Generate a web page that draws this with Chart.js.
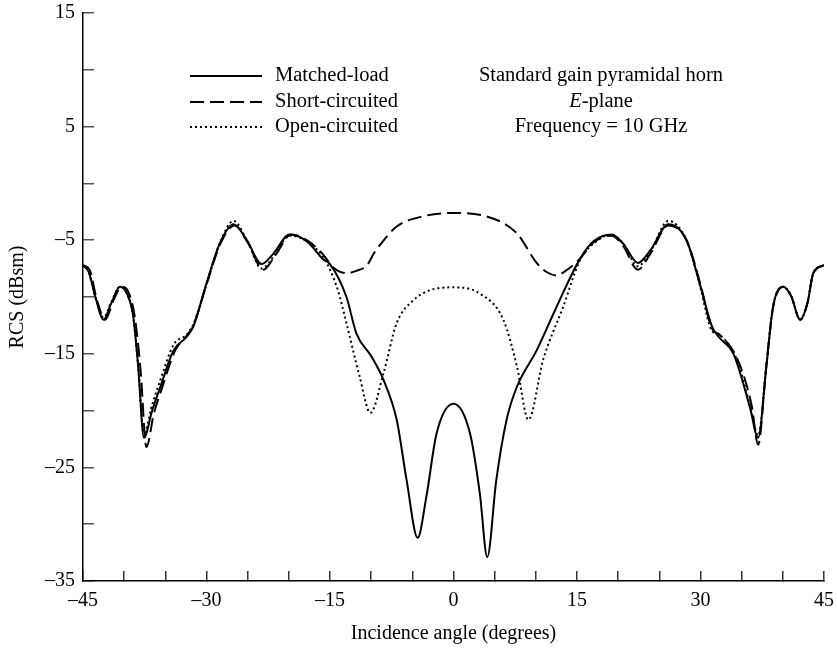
<!DOCTYPE html>
<html lang="en">

<head>
    <meta charset="utf-8">
    <title>RCS of pyramidal horn</title>
    <script src="https://cdn.jsdelivr.net/npm/chart.js@4.4.0/dist/chart.umd.min.js"></script>
    <style>
        body { margin: 0; background: #ffffff; }
    </style>
</head>

<body>
    <canvas id="myChart" width="837" height="650"></canvas>

    <script>
        // data (degrees / dBsm)
        const matchedAngle = [-45, -44.3, -43.5, -42.5, -41.6, -40.5, -39.6, -38.9, -38.3, -37.6, -36.6, -35.6, -34.0, -32.4, -31.6, -30.0, -28.4, -26.7, -25.1, -23.3, -21.9, -19.9, -17.8, -15.8, -15.0, -13.0, -11.8, -10.0, -8.5, -6.9, -5.7, -4.35, -3.3, -2.05, 0, 2.0, 3.2, 4.1, 5.2, 6.45, 7.7, 10.1, 12.5, 15.4, 17.0, 19.2, 20.6, 22.4, 23.9, 26.1, 28.3, 29.9, 31.4, 32.2, 34.0, 36.0, 37.0, 38.0, 38.8, 40.05, 41.0, 42.1, 43.0, 43.7, 45]
        const matchedRcs = [-7.2, -7.8, -10.0, -12.0, -10.6, -9.1, -9.8, -11.7, -16.1, -22.4, -20.0, -17.9, -14.7, -13.5, -12.6, -8.8, -5.3, -3.6, -5.0, -7.1, -6.2, -4.5, -5.1, -6.7, -7.1, -10.0, -13.2, -15.2, -17.3, -20.8, -26.1, -31.2, -27.6, -22.0, -19.4, -22.0, -27.3, -32.9, -26.1, -20.8, -17.9, -14.7, -10.9, -6.6, -5.1, -4.5, -5.3, -7.0, -5.9, -3.6, -5.0, -8.8, -12.6, -13.5, -15.0, -19.7, -22.4, -16.1, -10.9, -9.1, -9.9, -12.0, -10.5, -7.9, -7.2]

        const shortAngle = [-45, -44.2, -43.3, -42.3, -41.3, -40.3, -39.4, -38.7, -38.0, -37.3, -36.4, -35.4, -33.8, -32.4, -31.6, -30.0, -28.3, -26.6, -25.0, -23.1, -21.7, -19.7, -17.6, -15.8, -14.6, -13.0, -11.8, -10.5, -9.7, -8.9, -6.9, -3.7, 0, 4.0, 7.7, 10.1, 11.3, 12.5, 13.8, 15.4, 17.0, 19.2, 20.6, 22.4, 23.9, 26.1, 28.3, 30.0, 31.4, 32.3, 34.5, 36.2, 37.0, 38.0, 38.8, 40.05, 41.0, 42.1, 43.0, 43.7, 45]
        const shortRcs = [-7.2, -7.6, -10.3, -12.0, -10.3, -9.1, -9.7, -11.8, -16.5, -23.2, -20.3, -18.0, -14.7, -13.4, -12.5, -8.9, -5.3, -3.7, -5.2, -7.6, -6.4, -4.5, -5.1, -6.3, -7.4, -7.9, -7.7, -7.2, -6.2, -5.4, -3.8, -2.9, -2.6, -2.9, -4.4, -7.0, -7.8, -8.1, -7.6, -6.6, -5.2, -4.6, -5.5, -7.6, -6.2, -3.7, -5.0, -8.9, -12.8, -13.3, -15.5, -19.5, -23.0, -16.0, -11.0, -9.1, -9.9, -12.0, -10.5, -7.9, -7.2]

        const openAngle = [-45, -44.3, -43.5, -42.5, -41.6, -40.5, -39.6, -38.9, -38.3, -37.6, -36.6, -35.6, -34.0, -32.4, -31.6, -30.0, -28.4, -26.7, -25.1, -23.3, -21.9, -19.9, -17.8, -15.8, -15.0, -14.0, -13.0, -11.4, -10.1, -8.5, -6.9, -4.9, -2.85, 0, 3.2, 6.05, 7.7, 9.1, 10.9, 13.3, 15.4, 17.0, 19.2, 20.6, 22.4, 23.9, 26.1, 28.3, 29.9, 31.4, 32.2, 34.4, 36.0, 37.0, 38.0, 38.8, 40.05, 41.0, 42.1, 43.0, 43.7, 45]
        const openRcs = [-7.2, -7.8, -10.0, -11.8, -10.5, -9.1, -9.8, -11.7, -16.1, -22.0, -19.5, -17.3, -14.2, -13.3, -12.4, -8.9, -5.3, -3.3, -5.0, -7.5, -6.5, -4.6, -5.1, -6.5, -7.6, -9.5, -12.3, -17.0, -20.2, -16.7, -12.3, -10.3, -9.4, -9.15, -9.7, -12.0, -16.1, -20.8, -15.5, -10.9, -6.7, -5.3, -4.5, -5.3, -7.3, -6.0, -3.3, -5.0, -8.9, -13.0, -13.3, -15.5, -19.5, -22.2, -16.1, -10.9, -9.1, -9.9, -12.0, -10.5, -7.9, -7.2]

        const seriesNames = ['Matched-load', 'Short-circuited', 'Open-circuited']
        const noteLines = ['Standard gain pyramidal horn', '-plane', 'Frequency = 10 GHz']

        const serif = "'Liberation Serif', 'Times New Roman', serif"

        function toPoints(xs, ys) {
            return xs.map((x, i) => ({ x: x, y: ys[i] }))
        }

        // legend + text block inside the plot
        const notesPlugin = {
            id: 'notes',
            afterDraw(chart) {
                const ctx = chart.ctx
                const area = chart.chartArea
                const font = '20.5px ' + serif
                ctx.save()
                ctx.font = font
                ctx.fillStyle = '#000'
                ctx.textBaseline = 'middle'
                const rows = [area.top + 63, area.top + 89, area.top + 114]
                chart.data.datasets.forEach((ds, i) => {
                    ctx.strokeStyle = '#000'
                    ctx.lineWidth = ds.borderWidth
                    ctx.setLineDash(ds.borderDash || [])
                    ctx.beginPath()
                    ctx.moveTo(area.left + 107, rows[i])
                    ctx.lineTo(area.left + 179, rows[i])
                    ctx.stroke()
                    ctx.setLineDash([])
                    ctx.textAlign = 'left'
                    ctx.fillText(ds.label, area.left + 192, rows[i])
                })

                const cx = area.left + 518
                ctx.textAlign = 'center'
                ctx.fillText(noteLines[0], cx, rows[0])
                // E-plane with italic E
                ctx.font = 'italic ' + font
                const wE = ctx.measureText('E').width
                ctx.font = font
                const wRest = ctx.measureText(noteLines[1]).width
                const x0 = cx - (wE + wRest) / 2
                ctx.textAlign = 'left'
                ctx.font = 'italic ' + font
                ctx.fillText('E', x0, rows[1])
                ctx.font = font
                ctx.fillText(noteLines[1], x0 + wE, rows[1])
                ctx.textAlign = 'center'
                ctx.fillText(noteLines[2], cx, rows[2])
                ctx.restore()
            }
        }

        const data = {
            datasets: [{
                label: seriesNames[0],
                data: toPoints(matchedAngle, matchedRcs),
                borderColor: '#000',
                borderWidth: 2,
                borderDash: []
            }, {
                label: seriesNames[1],
                data: toPoints(shortAngle, shortRcs),
                borderColor: '#000',
                borderWidth: 2,
                borderDash: [14, 6]
            }, {
                label: seriesNames[2],
                data: toPoints(openAngle, openRcs),
                borderColor: '#000',
                borderWidth: 2,
                borderDash: [2, 3]
            }]
        }

        const config = {
            type: 'line',
            data: data,
            options: {
                responsive: false,
                animation: false,
                devicePixelRatio: 1,
                layout: { padding: { top: 13, right: 13, left: 0, bottom: 0 } },
                elements: {
                    point: { radius: 0 },
                    line: { cubicInterpolationMode: 'monotone', fill: false }
                },
                plugins: {
                    legend: { display: false },
                    tooltip: { enabled: false }
                },
                scales: {
                    x: {
                        type: 'linear',
                        min: -45,
                        max: 45,
                        border: { display: true, color: '#000', width: 1.5 },
                        grid: { drawOnChartArea: false, drawTicks: true, tickLength: -10, tickColor: '#333', lineWidth: 1.5 },
                        ticks: {
                            stepSize: 5,
                            padding: 18,
                            color: '#000',
                            font: { family: serif, size: 20 },
                            maxRotation: 0,
                            autoSkip: false,
                            callback: (v) => (v % 15 === 0 ? String(v).replace('-', '\u2013') : '')
                        },
                        title: {
                            display: true,
                            text: 'Incidence angle (degrees)',
                            color: '#000',
                            font: { family: serif, size: 20 },
                            padding: { top: 0, bottom: 4 }
                        },
                        afterFit: (scale) => {
                            scale.height = 69
                            scale.paddingLeft = 0
                            scale.paddingRight = 0
                        }
                    },
                    y: {
                        type: 'linear',
                        min: -35,
                        max: 15,
                        border: { display: true, color: '#000', width: 1.5 },
                        grid: { drawOnChartArea: false, drawTicks: true, tickLength: -11, tickColor: '#555', lineWidth: 1.5 },
                        ticks: {
                            stepSize: 5,
                            padding: 19,
                            color: '#000',
                            font: { family: serif, size: 20 },
                            autoSkip: false,
                            callback: (v) => ((v - 15) % 10 === 0 ? String(v).replace('-', '\u2013') : '')
                        },
                        title: {
                            display: true,
                            text: 'RCS (dBsm)',
                            color: '#000',
                            font: { family: serif, size: 20 },
                            padding: { top: 6, bottom: 0 }
                        },
                        afterFit: (scale) => {
                            scale.width = 83
                            scale.paddingTop = 0
                            scale.paddingBottom = 0
                        }
                    }
                }
            },
            plugins: [notesPlugin]
        }

        const myChart = new Chart(document.getElementById('myChart'), config)
    </script>
</body>

</html>
